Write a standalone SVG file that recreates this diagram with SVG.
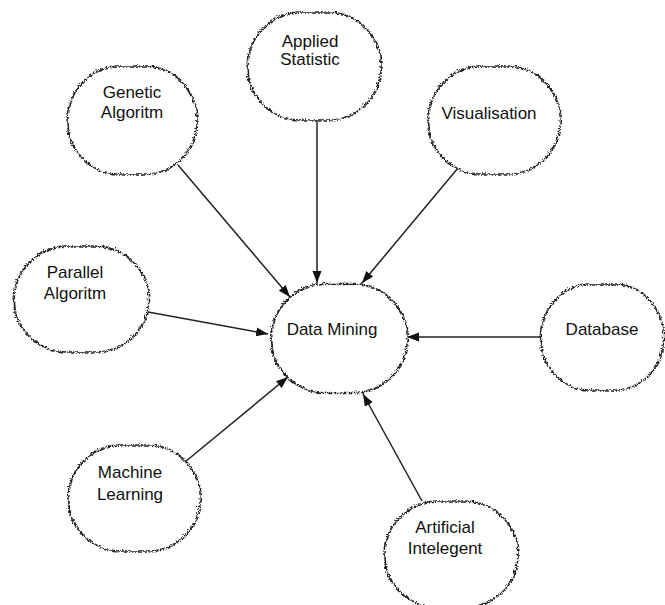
<svg xmlns="http://www.w3.org/2000/svg" xmlns:xlink="http://www.w3.org/1999/xlink" width="665" height="605" viewBox="0 0 665 605">
<style>
.shape{fill:#fff;stroke:#222;stroke-width:1.6;filter:url(#rough)}
.lbl{font-family:"Liberation Sans",Arial,sans-serif;font-size:17px;fill:#111;text-anchor:middle}
.conn line{stroke:#222;stroke-width:1.5;marker-end:url(#arr)}
</style>
<defs>
<filter id="rough" x="-15%" y="-15%" width="130%" height="130%">
<feTurbulence type="turbulence" baseFrequency="0.35" numOctaves="1" seed="5" result="n"/>
<feDisplacementMap in="SourceGraphic" in2="n" scale="4" xChannelSelector="R" yChannelSelector="G"/>
</filter>
<marker id="arr" markerUnits="userSpaceOnUse" markerWidth="14" markerHeight="10" refX="12" refY="4.5" orient="auto">
<path d="M0,0 L12,4.5 L0,9 Z" fill="#111"/>
</marker>
<path id="blob" d="M-14,-54 L14,-54 C40,-54 67,-32 67,0 C67,32 40,54 14,54 L-14,54 C-40,54 -67,32 -67,0 C-67,-32 -40,-54 -14,-54 Z"/>
</defs>
<rect width="665" height="605" fill="#fff"/>
<g id="connectors" class="conn">
<line x1="317" y1="120" x2="317" y2="283"/>
<line x1="458" y1="168" x2="362" y2="283"/>
<line x1="178" y1="165" x2="290" y2="297"/>
<line x1="148" y1="312" x2="268" y2="334"/>
<line x1="540" y1="337" x2="407" y2="337"/>
<line x1="185" y1="462" x2="288" y2="377"/>
<line x1="422" y1="501" x2="363" y2="394"/>
</g>
<g id="applied-statistic">
<use href="#blob" class="shape" transform="translate(313,65)"/>
<text class="lbl" x="310" y="47">Applied</text>
<text class="lbl" x="310" y="65">Statistic</text>
</g>
<g id="genetic-algoritm">
<use href="#blob" class="shape" transform="translate(131,119) scale(0.97,1)"/>
<text class="lbl" x="132" y="98">Genetic</text>
<text class="lbl" x="132" y="118">Algoritm</text>
</g>
<g id="visualisation">
<use href="#blob" class="shape" transform="translate(493,119) scale(0.99,1)"/>
<text class="lbl" x="489" y="119">Visualisation</text>
</g>
<g id="parallel-algoritm">
<use href="#blob" class="shape" transform="translate(80,298) scale(1.01,0.98)"/>
<text class="lbl" x="75" y="278">Parallel</text>
<text class="lbl" x="75" y="299">Algoritm</text>
</g>
<g id="data-mining">
<use href="#blob" class="shape" transform="translate(338,337) scale(1.02,1.01)"/>
<text class="lbl" x="332" y="335">Data Mining</text>
</g>
<g id="database">
<use href="#blob" class="shape" transform="translate(601,336) scale(0.92,0.98)"/>
<text class="lbl" x="602" y="335">Database</text>
</g>
<g id="machine-learning">
<use href="#blob" class="shape" transform="translate(133,497) scale(0.99,0.98)"/>
<text class="lbl" x="130" y="478">Machine</text>
<text class="lbl" x="130" y="500">Learning</text>
</g>
<g id="artificial-intelegent">
<use href="#blob" class="shape" transform="translate(450,553) scale(1,0.98)"/>
<text class="lbl" x="445" y="533">Artificial</text>
<text class="lbl" x="445" y="554">Intelegent</text>
</g>
</svg>
